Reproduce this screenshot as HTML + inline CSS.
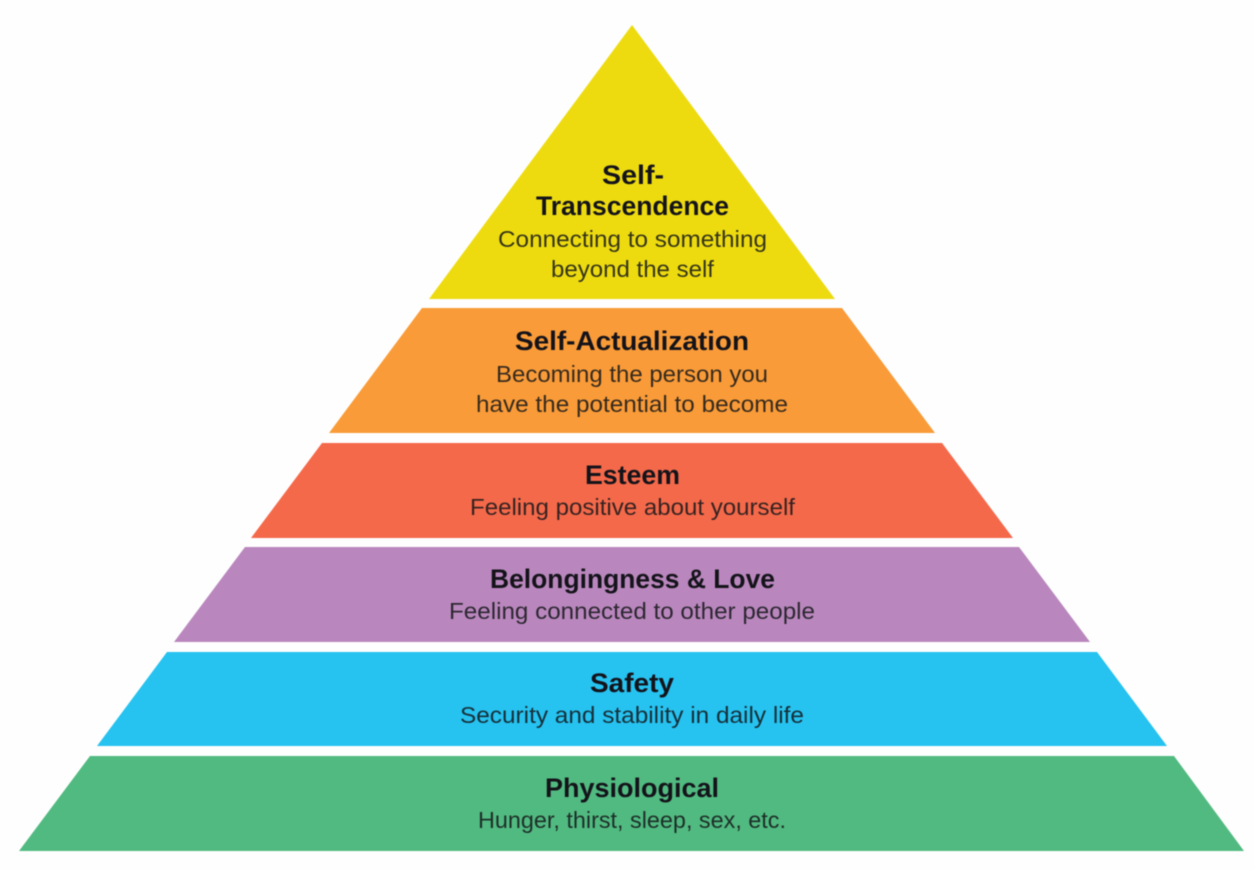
<!DOCTYPE html>
<html>
<head>
<meta charset="utf-8">
<style>
html,body{margin:0;padding:0;background:#fff;width:1255px;height:870px;overflow:hidden}
svg{display:block}
text{text-anchor:start;font-family:"Liberation Sans",sans-serif}
.b{font-weight:700;font-size:27px;fill:#14131a}
.r{font-size:23px;fill:#14161a;fill-opacity:.85}
.s{filter:blur(.45px)}
</style>
</head>
<body>
<svg width="1255" height="870" viewBox="0 0 1255 870" xmlns="http://www.w3.org/2000/svg">
<rect width="1255" height="870" fill="#fefefe"/>
<g class="s">
<polygon points="632,25 835,299 429,299" fill="#eddb10"/>
<polygon points="422,308 842,308 935,433 329,433" fill="#f99b38"/>
<polygon points="322,443 942,443 1013,538 251,538" fill="#f4694a"/>
<polygon points="245,547 1019,547 1090,642 174,642" fill="#b987bd"/>
<polygon points="167,652 1097,652 1167,746 97,746" fill="#26c2f0"/>
<polygon points="90,756 1174,756 1244,851 19,851" fill="#51ba80"/>
<text class="b" x="602" y="184" textLength="62" lengthAdjust="spacingAndGlyphs">Self-</text>
<text class="b" x="536" y="215" textLength="193" lengthAdjust="spacingAndGlyphs">Transcendence</text>
<text class="r" x="498" y="247" textLength="269" lengthAdjust="spacingAndGlyphs">Connecting to something</text>
<text class="r" x="551" y="277" textLength="163" lengthAdjust="spacingAndGlyphs">beyond the self</text>
<text class="b" x="515" y="350" textLength="234" lengthAdjust="spacingAndGlyphs">Self-Actualization</text>
<text class="r" x="496" y="382" textLength="272" lengthAdjust="spacingAndGlyphs">Becoming the person you</text>
<text class="r" x="476" y="412" textLength="312" lengthAdjust="spacingAndGlyphs">have the potential to become</text>
<text class="b" x="585" y="484" textLength="95" lengthAdjust="spacingAndGlyphs">Esteem</text>
<text class="r" x="470" y="515" textLength="325" lengthAdjust="spacingAndGlyphs">Feeling positive about yourself</text>
<text class="b" x="490" y="588" textLength="285" lengthAdjust="spacingAndGlyphs">Belongingness &amp; Love</text>
<text class="r" x="449" y="619" textLength="366" lengthAdjust="spacingAndGlyphs">Feeling connected to other people</text>
<text class="b" x="590" y="692" textLength="84" lengthAdjust="spacingAndGlyphs">Safety</text>
<text class="r" x="460" y="723" textLength="344" lengthAdjust="spacingAndGlyphs">Security and stability in daily life</text>
<text class="b" x="545" y="797" textLength="174" lengthAdjust="spacingAndGlyphs">Physiological</text>
<text class="r" x="478" y="828" textLength="308" lengthAdjust="spacingAndGlyphs">Hunger, thirst, sleep, sex, etc.</text>
</g>
</svg>
</body>
</html>
